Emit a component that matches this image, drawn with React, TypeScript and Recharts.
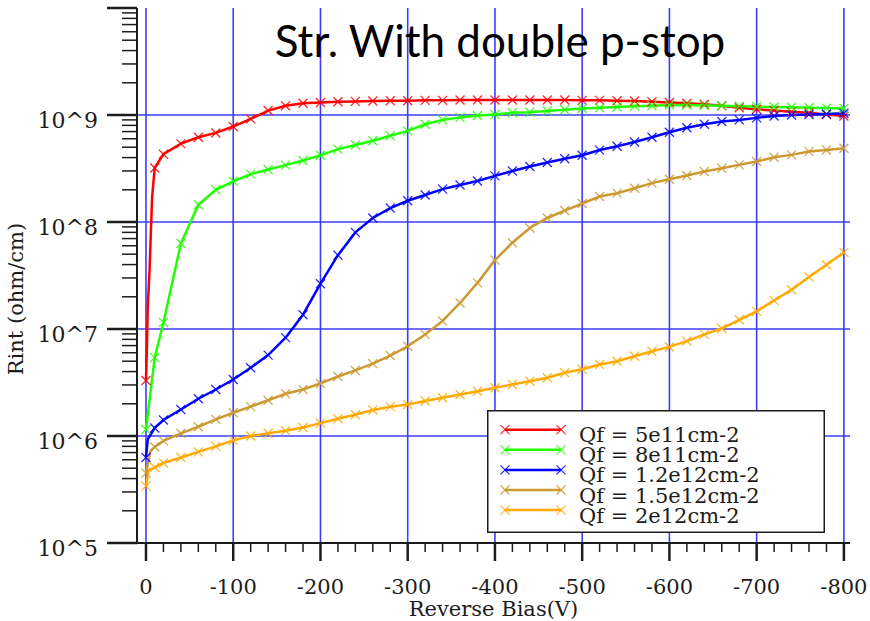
import React from 'react';
import { LineChart, Line, XAxis, YAxis, ReferenceLine, Legend, Label } from 'recharts';

// Reverse bias (V) sampled every 20 V
const BIAS = [-20, -40, -60, -80, -100, -120, -140, -160, -180, -200, -220, -240, -260, -280, -300, -320, -340, -360, -380, -400, -420, -440, -460, -480, -500, -520, -540, -560, -580, -600, -620, -640, -660, -680, -700, -720, -740, -760, -780, -800];

// Qf = 5e11 cm-2
const RED_NEAR_V = [0, -1, -2, -4, -7, -10];
const RED_NEAR_R = [3.3e6, 6.3e6, 1.6e7, 3.4e7, 1.7e8, 3.2e8];
const RED_R = [4.3e8, 5.4e8, 6.2e8, 6.8e8, 7.8e8, 9.2e8, 1.10e9, 1.22e9, 1.29e9, 1.31e9, 1.33e9, 1.34e9, 1.35e9, 1.36e9, 1.36e9, 1.37e9, 1.37e9, 1.38e9, 1.38e9, 1.38e9, 1.38e9, 1.38e9, 1.38e9, 1.38e9, 1.37e9, 1.37e9, 1.36e9, 1.35e9, 1.33e9, 1.31e9, 1.29e9, 1.26e9, 1.22e9, 1.17e9, 1.13e9, 1.10e9, 1.07e9, 1.05e9, 1.01e9, 0.98e9];

// Qf = 8e11 cm-2
const GREEN_NEAR_V = [0, -10];
const GREEN_NEAR_R = [1.15e6, 5.4e6];
const GREEN_R = [1.15e7, 6.3e7, 1.45e8, 2.0e8, 2.4e8, 2.8e8, 3.1e8, 3.4e8, 3.75e8, 4.2e8, 4.8e8, 5.25e8, 5.75e8, 6.4e8, 7.1e8, 8.2e8, 9.0e8, 9.5e8, 9.9e8, 1.01e9, 1.05e9, 1.06e9, 1.09e9, 1.12e9, 1.15e9, 1.17e9, 1.19e9, 1.21e9, 1.22e9, 1.24e9, 1.24e9, 1.23e9, 1.22e9, 1.21e9, 1.20e9, 1.19e9, 1.18e9, 1.17e9, 1.16e9, 1.15e9];

// Qf = 1.2e12 cm-2
const BLUE_NEAR_V = [0, -2, -10];
const BLUE_NEAR_R = [6.3e5, 9.3e5, 1.19e6];
const BLUE_R = [1.41e6, 1.77e6, 2.23e6, 2.72e6, 3.37e6, 4.34e6, 5.7e6, 8.3e6, 1.36e7, 2.65e7, 4.9e7, 8.0e7, 1.09e8, 1.35e8, 1.58e8, 1.79e8, 2.03e8, 2.22e8, 2.42e8, 2.70e8, 3.0e8, 3.3e8, 3.6e8, 3.9e8, 4.2e8, 4.7e8, 5.1e8, 5.6e8, 6.2e8, 6.9e8, 7.6e8, 8.2e8, 8.7e8, 9.0e8, 9.4e8, 9.8e8, 1.0e9, 1.01e9, 1.02e9, 1.04e9];

// Qf = 1.5e12 cm-2
const BROWN_NEAR_V = [0, -5, -10];
const BROWN_NEAR_R = [4.5e5, 7.2e5, 7.9e5];
const BROWN_R = [9.0e5, 1.06e6, 1.22e6, 1.43e6, 1.65e6, 1.88e6, 2.16e6, 2.48e6, 2.72e6, 3.1e6, 3.6e6, 4.1e6, 4.75e6, 5.65e6, 6.9e6, 8.9e6, 1.19e7, 1.75e7, 2.7e7, 4.4e7, 6.4e7, 8.8e7, 1.09e8, 1.28e8, 1.49e8, 1.73e8, 1.86e8, 2.07e8, 2.31e8, 2.51e8, 2.72e8, 2.96e8, 3.18e8, 3.42e8, 3.67e8, 4.03e8, 4.24e8, 4.55e8, 4.71e8, 4.89e8];

// Qf = 2e12 cm-2
const ORANGE_NEAR_V = [0, -3, -10];
const ORANGE_NEAR_R = [3.4e5, 4.8e5, 5.1e5];
const ORANGE_R = [5.6e5, 6.3e5, 7.1e5, 8.0e5, 9.1e5, 1.0e6, 1.06e6, 1.12e6, 1.20e6, 1.32e6, 1.45e6, 1.58e6, 1.75e6, 1.88e6, 1.97e6, 2.12e6, 2.28e6, 2.44e6, 2.62e6, 2.82e6, 3.03e6, 3.25e6, 3.5e6, 3.9e6, 4.2e6, 4.66e6, 5.0e6, 5.56e6, 6.2e6, 6.8e6, 7.7e6, 8.9e6, 1.01e7, 1.22e7, 1.46e7, 1.85e7, 2.33e7, 3.06e7, 3.98e7, 5.2e7];

const SERIES_NAMES = ['Qf = 5e11cm-2', 'Qf = 8e11cm-2', 'Qf = 1.2e12cm-2', 'Qf = 1.5e12cm-2', 'Qf = 2e12cm-2'];
const SERIES_COLORS = ['#ff0000', '#22ff00', '#0000ff', '#cc9933', '#ffaa00'];

const X_MAJOR = [0, -100, -200, -300, -400, -500, -600, -700, -800];
const Y_MAJOR = [1e5, 1e6, 1e7, 1e8, 1e9, 1e10];
const Y_LABELS = ['10^5', '10^6', '10^7', '10^8', '10^9', '10^10'];

const TITLE = 'Str. With double p-stop';
const X_TITLE = 'Reverse Bias(V)';
const Y_TITLE = 'Rint (ohm/cm)';

const X_DOMAIN = [-807, 10.3];
const Y_DOMAIN = [1e5, 1e10];

const X_TICKS: number[] = [];
for (let v = 0; v >= -800; v -= 20) X_TICKS.push(v);
const Y_TICKS: number[] = [];
for (let d = 0; d < Y_MAJOR.length - 1; d++) {
  Y_TICKS.push(Y_MAJOR[d]);
  for (let k = 2; k <= 9; k++) Y_TICKS.push(k * Y_MAJOR[d]);
}
Y_TICKS.push(Y_MAJOR[Y_MAJOR.length - 1]);

const build = (nearV: number[], nearR: number[], r: number[]) => [
  ...nearV.map((v, i) => ({ v, r: nearR[i] })),
  ...BIAS.map((v, i) => ({ v, r: r[i] })),
];

const SERIES_DATA = [
  build(RED_NEAR_V, RED_NEAR_R, RED_R),
  build(GREEN_NEAR_V, GREEN_NEAR_R, GREEN_R),
  build(BLUE_NEAR_V, BLUE_NEAR_R, BLUE_R),
  build(BROWN_NEAR_V, BROWN_NEAR_R, BROWN_R),
  build(ORANGE_NEAR_V, ORANGE_NEAR_R, ORANGE_R),
];

const SERIF = 'DejaVu Serif';
const INK = '#1c1c1c';
const GRID = '#3c3cff';

const makeDot = (color: string) => (props: any) => {
  const { cx, cy, payload, index } = props;
  if (cx == null || cy == null || payload.v % 10 !== 0) return <g key={index} />;
  const s = 4.5;
  return (
    <g key={index} stroke={color} strokeWidth={1.3} strokeOpacity={0.85}>
      <line x1={cx - s} y1={cy - s} x2={cx + s} y2={cy + s} />
      <line x1={cx - s} y1={cy + s} x2={cx + s} y2={cy - s} />
    </g>
  );
};

const XTick = (props: any) => {
  const { x, y, payload } = props;
  const major = payload.value % 100 === 0;
  return (
    <g>
      <line x1={x} y1={y} x2={x} y2={y + (major ? 18 : 9)} stroke={INK} strokeWidth={major ? 2.5 : 1.5} />
      {major && (
        <text x={x} y={y + 51} textAnchor="middle" fontFamily={SERIF} fontSize={21} fill={INK}>
          {String(payload.value)}
        </text>
      )}
    </g>
  );
};

const YTick = (props: any) => {
  const { x, y, payload } = props;
  const idx = Y_MAJOR.indexOf(payload.value);
  const major = idx >= 0;
  return (
    <g>
      <line x1={x} y1={y} x2={x - (major ? 30 : 15)} y2={y} stroke={INK} strokeWidth={major ? 2.5 : 1.5} />
      {major && idx < Y_MAJOR.length - 1 && (
        <text x={x - 39} y={y + 13} textAnchor="end" fontFamily={SERIF} fontSize={22} fill={INK}>
          {Y_LABELS[idx]}
        </text>
      )}
    </g>
  );
};

const LegendBox = () => (
  <svg width={338} height={123} style={{ display: 'block' }}>
    <rect x={0.75} y={0.75} width={336.5} height={121.5} fill="#fff" stroke={INK} strokeWidth={1.5} />
    {SERIES_NAMES.map((name, i) => {
      const ly = 19.7 + 20.1 * i;
      const c = SERIES_COLORS[i];
      return (
        <g key={name}>
          <line x1={18} y1={ly} x2={74} y2={ly} stroke={c} strokeWidth={2.5} />
          {[18, 74].map((mx) => (
            <g key={mx} stroke={c} strokeWidth={1.2} strokeOpacity={0.85}>
              <line x1={mx - 4.5} y1={ly - 4.5} x2={mx + 4.5} y2={ly + 4.5} />
              <line x1={mx - 4.5} y1={ly + 4.5} x2={mx + 4.5} y2={ly - 4.5} />
            </g>
          ))}
          <text x={92} y={ly + 12.5} fontFamily={SERIF} fontSize={21} fill={INK}>
            {name}
          </text>
        </g>
      );
    })}
  </svg>
);

const YTitle = () => (
  <text x={16} y={299} transform="rotate(-90 16 299)" textAnchor="middle" dominantBaseline="central" fontFamily={SERIF} fontSize={21} fill={INK}>
    {Y_TITLE}
  </text>
);

export default function App() {
  return (
    <div style={{ position: 'absolute', left: 0, top: 0, width: 870, height: 621, background: '#fff' }}>
      <LineChart width={870} height={621} margin={{ top: 8, right: 20, left: 0, bottom: 0 }}>
        <XAxis
          dataKey="v"
          type="number"
          domain={X_DOMAIN}
          reversed
          allowDataOverflow
          ticks={X_TICKS}
          interval={0}
          height={78}
          tickSize={0}
          tickMargin={0}
          tickLine={false}
          tick={<XTick />}
          axisLine={{ stroke: INK, strokeWidth: 2 }}
        >
          <Label value={X_TITLE} position="insideBottom" offset={5} style={{ fontFamily: SERIF, fontSize: 21, fill: INK }} />
        </XAxis>
        <XAxis xAxisId="top" orientation="top" type="number" domain={X_DOMAIN} reversed allowDataOverflow height={0} tick={false} tickLine={false} axisLine={{ stroke: INK, strokeWidth: 2 }} />
        <YAxis
          scale="log"
          type="number"
          domain={Y_DOMAIN}
          allowDataOverflow
          ticks={Y_TICKS}
          interval={0}
          width={137}
          tickSize={0}
          tickMargin={0}
          tickLine={false}
          tick={<YTick />}
          axisLine={{ stroke: INK, strokeWidth: 2 }}
        >
          <Label content={<YTitle />} />
        </YAxis>
        <YAxis yAxisId="right" orientation="right" type="number" domain={[0, 1]} width={0} tick={false} tickLine={false} axisLine={{ stroke: INK, strokeWidth: 2 }} />
        {X_MAJOR.map((v) => (
          <ReferenceLine key={'gx' + v} x={v} stroke={GRID} strokeWidth={1.6} />
        ))}
        {Y_MAJOR.slice(1, -1).map((v) => (
          <ReferenceLine key={'gy' + v} y={v} stroke={GRID} strokeWidth={1.6} />
        ))}
        {SERIES_DATA.map((d, i) => (
          <Line
            key={SERIES_NAMES[i]}
            data={d}
            dataKey="r"
            name={SERIES_NAMES[i]}
            stroke={SERIES_COLORS[i]}
            strokeWidth={2.5}
            type="linear"
            dot={makeDot(SERIES_COLORS[i])}
            activeDot={false}
            isAnimationActive={false}
          />
        ))}
        <Legend
          layout="vertical"
          align="center"
          verticalAlign="middle"
          content={<LegendBox />}
          wrapperStyle={{ left: 487, top: 410, width: 338, height: 123 }}
        />
      </LineChart>
      <svg width={870} height={621} style={{ position: 'absolute', left: 0, top: 0, pointerEvents: 'none' }}>
        <text x={500} y={57} textAnchor="middle" fontFamily="Lato" fontSize={44} fill="#000">
          {TITLE}
        </text>
      </svg>
    </div>
  );
}
